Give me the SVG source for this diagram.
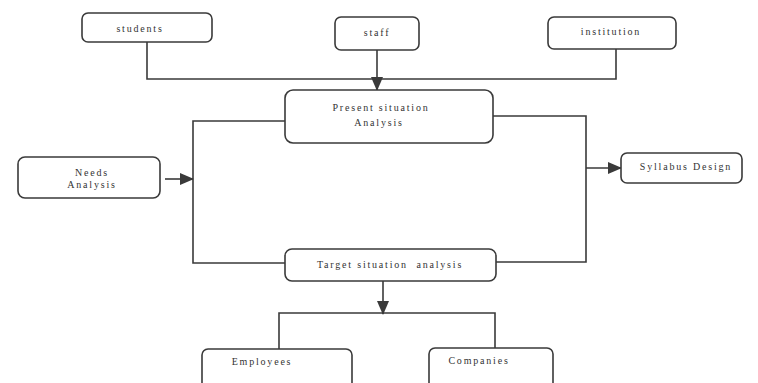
<svg xmlns="http://www.w3.org/2000/svg" width="758" height="383" viewBox="0 0 758 383">
<style>
.box{fill:#ffffff;stroke:#3a3a3a;stroke-width:1.6}
.ln{fill:none;stroke:#3a3a3a;stroke-width:1.6}
.t{font-family:"Liberation Serif",serif;font-size:10px;letter-spacing:1.8px;fill:#333;text-anchor:middle}
.pre{white-space:pre}
</style>
<defs>
<marker id="ah" markerUnits="userSpaceOnUse" markerWidth="14" markerHeight="14" viewBox="0 0 14 14" refX="13" refY="7" orient="auto">
<path d="M0,1 L14,7 L0,13 Z" fill="#3a3a3a"/>
</marker>
</defs>
<rect width="758" height="383" fill="#ffffff"/>
<g id="connectors">
<path class="ln" d="M147,42 V79 H616 V49"/>
<path class="ln" d="M377,50 V90" marker-end="url(#ah)"/>
<path class="ln" d="M285,121 H193 V263 H285"/>
<path class="ln" d="M493,116 H586 V262 H496"/>
<path class="ln" d="M165,179 H193" marker-end="url(#ah)"/>
<path class="ln" d="M586,168 H621" marker-end="url(#ah)"/>
<path class="ln" d="M383,281 V314" marker-end="url(#ah)"/>
<path class="ln" d="M279,349 V313 H495 V348"/>
</g>
<g id="students"><rect class="box" x="82" y="13" width="130" height="29" rx="6"/><text class="t" x="140" y="32">students</text></g>
<g id="staff"><rect class="box" x="335" y="17" width="84" height="33" rx="6"/><text class="t" x="377" y="36">staff</text></g>
<g id="institution"><rect class="box" x="548" y="17" width="128" height="32" rx="6"/><text class="t" x="611" y="35">institution</text></g>
<g id="present"><rect class="box" x="285" y="90" width="208" height="53" rx="8"/><text class="t" x="381" y="111">Present situation</text><text class="t" x="379" y="126">Analysis</text></g>
<g id="needs"><rect class="box" x="18" y="157" width="142" height="41" rx="7"/><text class="t" x="92" y="176">Needs</text><text class="t" x="92" y="188">Analysis</text></g>
<g id="syllabus"><rect class="box" x="621" y="153" width="121" height="30" rx="6"/><text class="t" x="686" y="170">Syllabus Design</text></g>
<g id="target"><rect class="box" x="285" y="249" width="211" height="32" rx="7"/><text class="t pre" x="390" y="268" xml:space="preserve">Target situation  analysis</text></g>
<g id="employees"><rect class="box" x="202" y="349" width="150" height="44" rx="6"/><text class="t" x="262" y="365">Employees</text></g>
<g id="companies"><rect class="box" x="429" y="348" width="124" height="44" rx="6"/><text class="t" x="479" y="364">Companies</text></g>
</svg>
